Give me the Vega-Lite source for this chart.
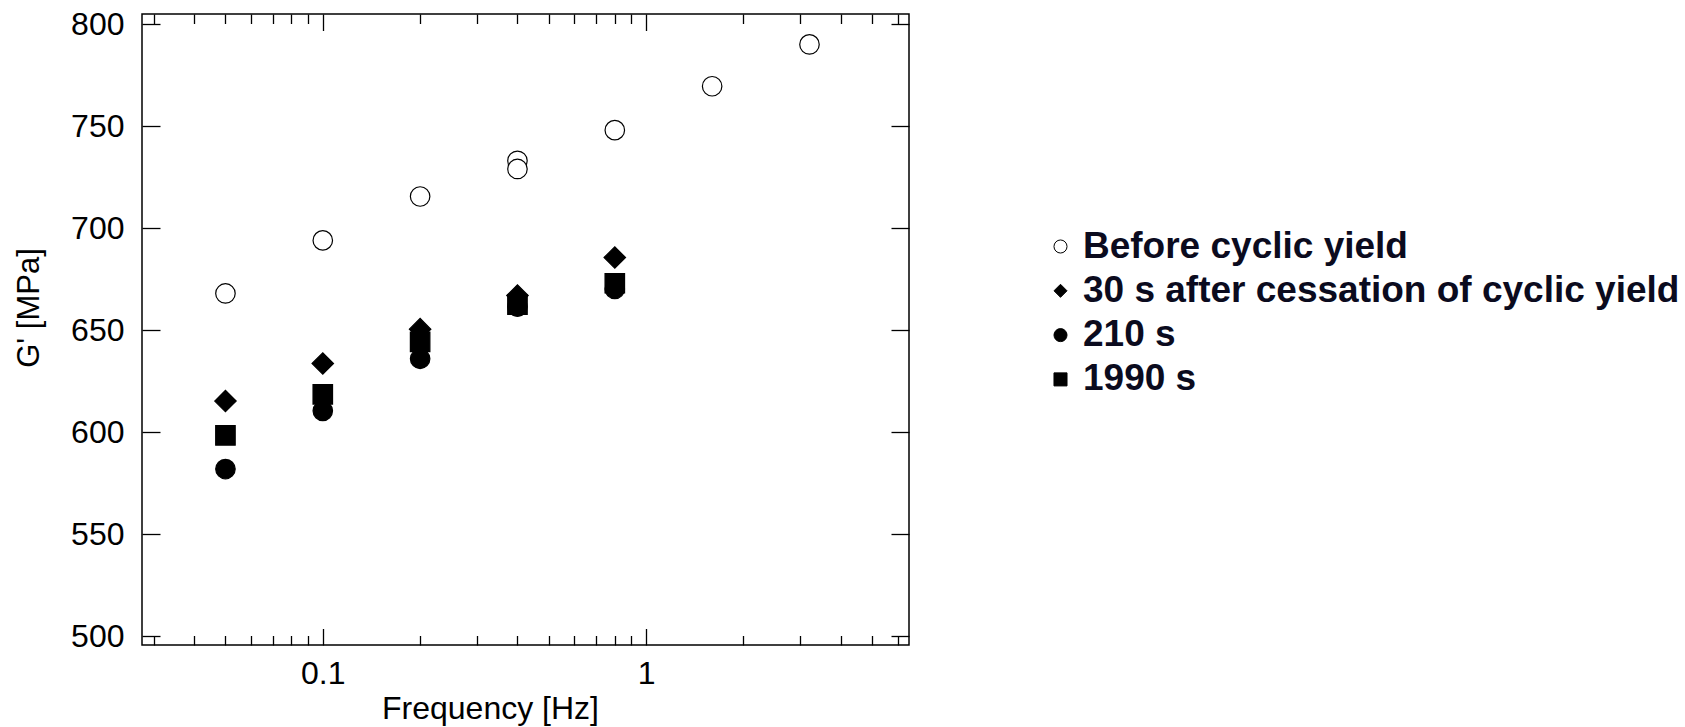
{
  "$schema": "https://vega.github.io/schema/vega-lite/v6.json",
  "width": 767,
  "height": 631,
  "autosize": {"type": "none"},
  "padding": {"left": 142, "top": 14, "right": 776, "bottom": 82},
  "background": "white",
  "config": {
    "view": {"stroke": "black", "strokeWidth": 1.5},
    "font": "Liberation Sans",
    "axis": {"grid": false, "domain": false, "tickColor": "black", "tickWidth": 1.3, "labelColor": "black", "titleColor": "black", "labelFont": "Liberation Sans", "titleFont": "Liberation Sans"},
    "legend": {
      "labelFont": "Liberation Sans",
      "labelFontSize": 37,
      "labelFontWeight": "bold",
      "labelColor": "#0b0b1e",
      "labelLimit": 0,
      "symbolSize": 170,
      "symbolStrokeWidth": 1,
      "rowPadding": 6.3,
      "labelOffset": 4,
      "padding": 0
    }
  },
  "datasets": {
    "pts": [
      {"freq": 0.05, "G": 668, "series": "Before cyclic yield"},
      {"freq": 0.1, "G": 694, "series": "Before cyclic yield"},
      {"freq": 0.2, "G": 715.5, "series": "Before cyclic yield"},
      {"freq": 0.4, "G": 733, "series": "Before cyclic yield"},
      {"freq": 0.4, "G": 729, "series": "Before cyclic yield"},
      {"freq": 0.8, "G": 748, "series": "Before cyclic yield"},
      {"freq": 1.6, "G": 769.5, "series": "Before cyclic yield"},
      {"freq": 3.2, "G": 790, "series": "Before cyclic yield"},
      {"freq": 0.05, "G": 615.3, "series": "30 s after cessation of cyclic yield"},
      {"freq": 0.1, "G": 633.7, "series": "30 s after cessation of cyclic yield"},
      {"freq": 0.2, "G": 650.5, "series": "30 s after cessation of cyclic yield"},
      {"freq": 0.4, "G": 667, "series": "30 s after cessation of cyclic yield"},
      {"freq": 0.8, "G": 685.6, "series": "30 s after cessation of cyclic yield"},
      {"freq": 0.05, "G": 582, "series": "210 s"},
      {"freq": 0.1, "G": 610.5, "series": "210 s"},
      {"freq": 0.2, "G": 636, "series": "210 s"},
      {"freq": 0.4, "G": 661.5, "series": "210 s"},
      {"freq": 0.8, "G": 670.2, "series": "210 s"},
      {"freq": 0.05, "G": 598.5, "series": "1990 s"},
      {"freq": 0.1, "G": 618.6, "series": "1990 s"},
      {"freq": 0.2, "G": 644.3, "series": "1990 s"},
      {"freq": 0.4, "G": 662.5, "series": "1990 s"},
      {"freq": 0.8, "G": 673, "series": "1990 s"}
    ]
  },
  "data": {"name": "pts"},
  "resolve": {"axis": {"x": "independent", "y": "independent"}},
  "layer": [
    {
      "mark": {"type": "point", "opacity": 0},
      "encoding": {
        "x": {"field": "freq", "type": "quantitative", "scale": {"type": "log", "domain": [0.0276, 6.5], "nice": false},
          "axis": {"orient": "bottom", "values": [0.1, 1], "labels": false, "tickSize": -16.5, "title": null}},
        "y": {"field": "G", "type": "quantitative", "scale": {"domain": [495.8, 804.9], "nice": false, "zero": false},
          "axis": {"orient": "left", "values": [500, 550, 600, 650, 700, 750, 800], "labels": false, "tickSize": -18, "title": null}}
      }
    },
    {
      "mark": {"type": "point", "opacity": 0},
      "encoding": {
        "x": {"field": "freq", "type": "quantitative", "scale": {"type": "log", "domain": [0.0276, 6.5], "nice": false},
          "axis": {"orient": "bottom", "values": [0.03, 0.04, 0.05, 0.06, 0.07, 0.08, 0.09, 0.2, 0.3, 0.4, 0.5, 0.6, 0.7, 0.8, 0.9, 2, 3, 4, 5, 6], "labels": false, "tickSize": -9.5, "title": null}},
        "y": {"field": "G", "type": "quantitative", "scale": {"domain": [495.8, 804.9], "nice": false, "zero": false},
          "axis": {"orient": "right", "values": [500, 550, 600, 650, 700, 750, 800], "labels": false, "tickSize": -18, "title": null}}
      }
    },
    {
      "mark": {"type": "point", "opacity": 0},
      "encoding": {
        "x": {"field": "freq", "type": "quantitative", "scale": {"type": "log", "domain": [0.0276, 6.5], "nice": false},
          "axis": {"orient": "top", "values": [0.1, 1], "labels": false, "tickSize": -16.5, "title": null}},
        "y": {"field": "G", "type": "quantitative", "scale": {"domain": [495.8, 804.9], "nice": false, "zero": false}, "axis": null}
      }
    },
    {
      "mark": {"type": "point", "opacity": 0},
      "encoding": {
        "x": {"field": "freq", "type": "quantitative", "scale": {"type": "log", "domain": [0.0276, 6.5], "nice": false},
          "axis": {"orient": "top", "values": [0.03, 0.04, 0.05, 0.06, 0.07, 0.08, 0.09, 0.2, 0.3, 0.4, 0.5, 0.6, 0.7, 0.8, 0.9, 2, 3, 4, 5, 6], "labels": false, "tickSize": -9.5, "title": null}},
        "y": {"field": "G", "type": "quantitative", "scale": {"domain": [495.8, 804.9], "nice": false, "zero": false}, "axis": null}
      }
    },
    {
      "transform": [{"filter": "datum.series === '30 s after cessation of cyclic yield'"}],
      "mark": {"type": "point", "filled": true, "strokeWidth": 1.2, "size": 460, "opacity": 1},
      "encoding": {
        "x": {"field": "freq", "type": "quantitative", "scale": {"type": "log", "domain": [0.0276, 6.5], "nice": false}, "axis": null},
        "y": {"field": "G", "type": "quantitative", "scale": {"domain": [495.8, 804.9], "nice": false, "zero": false}, "axis": null},
        "shape": {"field": "series", "type": "nominal",
          "scale": {"domain": ["Before cyclic yield", "30 s after cessation of cyclic yield", "210 s", "1990 s"], "range": ["circle", "diamond", "circle", "square"]},
          "legend": {"title": null, "orient": "none", "legendX": 900, "legendY": 214}},
        "fill": {"field": "series", "type": "nominal",
          "scale": {"domain": ["Before cyclic yield", "30 s after cessation of cyclic yield", "210 s", "1990 s"], "range": ["white", "black", "black", "black"]},
          "legend": {"title": null, "orient": "none", "legendX": 900, "legendY": 214}},
        "stroke": {"field": "series", "type": "nominal",
          "scale": {"domain": ["Before cyclic yield", "30 s after cessation of cyclic yield", "210 s", "1990 s"], "range": ["black", "black", "black", "black"]},
          "legend": {"title": null, "orient": "none", "legendX": 900, "legendY": 214}}
      }
    },
    {
      "transform": [{"filter": "datum.series !== '30 s after cessation of cyclic yield'"}],
      "mark": {"type": "point", "filled": true, "strokeWidth": 1.2, "size": 380, "opacity": 1},
      "encoding": {
        "x": {"field": "freq", "type": "quantitative", "scale": {"type": "log", "domain": [0.0276, 6.5], "nice": false},
          "axis": {"orient": "bottom", "values": [0.1, 1], "format": "~g", "ticks": false, "labelPadding": 13, "labelFontSize": 32, "labelFlush": false, "labelOverlap": false,
            "title": "Frequency [Hz]", "titleFontSize": 32, "titleFontWeight": "normal", "titleX": 348, "titleY": 73.5, "titleAlign": "center", "titleBaseline": "alphabetic"}},
        "y": {"field": "G", "type": "quantitative", "scale": {"domain": [495.8, 804.9], "nice": false, "zero": false},
          "axis": {"orient": "left", "values": [500, 550, 600, 650, 700, 750, 800], "ticks": false, "labelPadding": 18, "labelFontSize": 32, "labelFlush": false, "labelOverlap": false,
            "title": "G' [MPa]", "titleFontSize": 31, "titleFontWeight": "normal", "titleAngle": -90, "titleX": -104, "titleY": 293.5, "titleAlign": "center", "titleBaseline": "alphabetic"}},
        "shape": {"field": "series", "type": "nominal",
          "scale": {"domain": ["Before cyclic yield", "30 s after cessation of cyclic yield", "210 s", "1990 s"], "range": ["circle", "diamond", "circle", "square"]},
          "legend": {"title": null, "orient": "none", "legendX": 900, "legendY": 214}},
        "fill": {"field": "series", "type": "nominal",
          "scale": {"domain": ["Before cyclic yield", "30 s after cessation of cyclic yield", "210 s", "1990 s"], "range": ["white", "black", "black", "black"]},
          "legend": {"title": null, "orient": "none", "legendX": 900, "legendY": 214}},
        "stroke": {"field": "series", "type": "nominal",
          "scale": {"domain": ["Before cyclic yield", "30 s after cessation of cyclic yield", "210 s", "1990 s"], "range": ["black", "black", "black", "black"]},
          "legend": {"title": null, "orient": "none", "legendX": 900, "legendY": 214}}
      }
    }
  ]
}
